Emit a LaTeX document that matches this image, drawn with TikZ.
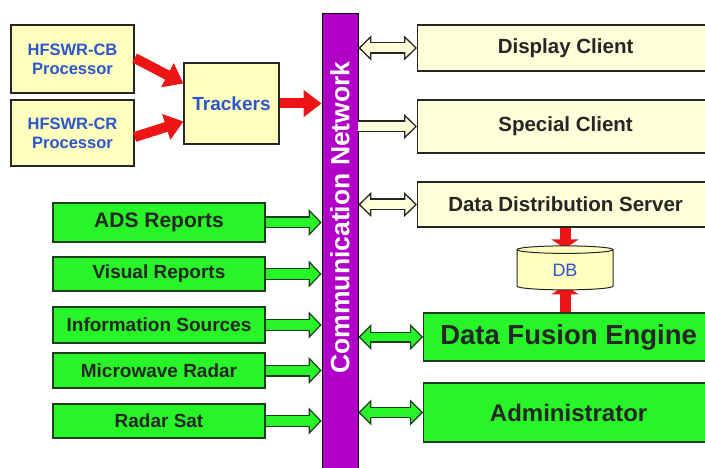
\documentclass[tikz,border=0pt]{standalone}
\usepackage{fontspec}
\setmainfont{Liberation Sans}
\usetikzlibrary{positioning,calc,arrows.meta,shapes.geometric,backgrounds}

\definecolor{procyellow}{RGB}{255,255,190}
\definecolor{clientcream}{RGB}{255,255,218}
\definecolor{srcgreen}{RGB}{40,245,40}
\definecolor{srcedge}{RGB}{30,60,30}
\definecolor{netpurple}{RGB}{176,0,200}
\definecolor{flowred}{RGB}{236,20,20}
\definecolor{procblue}{RGB}{45,85,205}

\begin{document}
\begin{tikzpicture}[x=1pt,y=-1pt,
    proc/.style={rectangle,draw=black!85,line width=1.2pt,fill=procyellow,
      text=procblue,font=\bfseries\fontsize{16.5}{19}\selectfont,align=center,inner sep=0pt},
    client/.style={rectangle,draw=black!85,line width=1.2pt,fill=clientcream,anchor=west,
      text=black!85,font=\bfseries\fontsize{20.5}{24}\selectfont,minimum width=296pt,inner sep=0pt},
    source/.style={rectangle,draw=srcedge,line width=1.2pt,fill=srcgreen,
      text=black!85,font=\bfseries\fontsize{19}{22}\selectfont,minimum width=212pt,inner sep=0pt},
    engine/.style={rectangle,draw=srcedge,line width=1.2pt,fill=srcgreen,anchor=west,
      text=black!85,font=\bfseries\fontsize{24}{28}\selectfont,minimum width=290pt,inner sep=0pt},
    net/.style={rectangle,draw=black,line width=0.8pt,fill=netpurple,
      minimum width=36pt,minimum height=457pt,inner sep=0pt},
    nettext/.style={text=white,font=\bfseries\fontsize{26.5}{30}\selectfont,inner sep=0pt},
    db/.style={cylinder,shape border rotate=90,aspect=0.3,draw=black!85,line width=1pt,
      fill=procyellow,minimum width=96pt,minimum height=44pt,inner sep=0pt,
      text=procblue,font=\fontsize{18}{20}\selectfont},
    redflow/.style={draw=flowred,line width=10pt,-{Triangle[width=26pt,length=18pt]}},
    dbflow/.style={draw=flowred,line width=11pt,-{Triangle[width=27pt,length=9pt]}},
    creamflow/.style={draw=black!85,line width=12pt,
      -{Triangle[width=25pt,length=13pt,fill=clientcream,line width=1.3pt]},
      postaction={draw=clientcream,line width=9pt,-,shorten >=11pt}},
    creamboth/.style={draw=black!85,line width=12pt,
      {Triangle[width=25pt,length=13pt,fill=clientcream,line width=1.3pt]}-{Triangle[width=25pt,length=13pt,fill=clientcream,line width=1.3pt]},
      postaction={draw=clientcream,line width=9pt,-,shorten >=11pt,shorten <=11pt}},
    greenflow/.style={draw=srcedge,line width=12pt,
      -{Triangle[width=27pt,length=13pt,fill=srcgreen,line width=1.2pt]},
      postaction={draw=srcgreen,line width=9.5pt,-,shorten >=11.5pt}},
    greenboth/.style={draw=srcedge,line width=11pt,
      {Triangle[width=26pt,length=13pt,fill=srcgreen,line width=1.2pt]}-{Triangle[width=26pt,length=13pt,fill=srcgreen,line width=1.2pt]},
      postaction={draw=srcgreen,line width=8.5pt,-,shorten >=11.5pt,shorten <=11.5pt}}
    ]

\path[use as bounding box,clip] (0,0) rectangle (705,468);

% Radar processors and trackers
\node[proc,minimum width=123pt,minimum height=68pt] (cb) at (72.5,59) {HFSWR-CB\\Processor};
\node[proc,minimum width=123pt,minimum height=66pt] (cr) at (72.5,133) {HFSWR-CR\\Processor};
\node[proc,minimum width=95pt,minimum height=81pt,font=\bfseries\fontsize{19}{22}\selectfont] (trk) at (231.5,103.5) {Trackers};

% Communication network
\node[net] (net) at (340,241.5) {};
\node[nettext,rotate=90] (netlabel) at (340,217.5) {Communication Network};

% Clients
\node[client,minimum height=46pt] (disp) at (417,48) {Display Client};
\node[client,minimum height=53pt] (spec) at (417,126.5) {Special Client};
\node[client,minimum height=45pt] (dds) at (417,204.5) {Data Distribution Server};

% Database
\node[db] (db) at (565,270) {DB};

% Fusion engine and administrator
\node[engine,minimum height=48pt,font=\bfseries\fontsize{27.5}{31}\selectfont] (dfe) at (423,337) {Data Fusion Engine};
\node[engine,minimum height=59pt] (admin) at (423,412.5) {Administrator};

% Report sources
\node[source,minimum height=39pt,font=\bfseries\fontsize{21}{24}\selectfont] (ads) at (159,222.5) {ADS Reports};
\node[source,minimum height=34pt] (vis) at (159,274) {Visual Reports};
\node[source,minimum height=36pt] (info) at (159,325) {Information Sources};
\node[source,minimum height=35pt] (mw) at (159,370.5) {Microwave Radar};
\node[source,minimum height=34pt] (rsat) at (159,421) {Radar Sat};

% Red data paths
\draw[redflow] ([yshift=1pt]cb.east) -- ([yshift=20pt]trk.west);
\draw[redflow] ([yshift=-4pt]cr.east) -- ([yshift=-18pt]trk.west);
\draw[redflow] (trk.east) -- (trk.east -| net.west);
\begin{scope}[on background layer]
\draw[dbflow] (dds.south -| db.north) -- ([yshift=-3pt]db.north);
\draw[dbflow] (dfe.north -| db.south) -- ([yshift=5pt]db.south);
\end{scope}

% Network to clients
\draw[creamboth] (net.east |- disp.west) -- (disp.west);
\draw[creamflow] (net.east |- spec.west) -- (spec.west);
\draw[creamboth] (net.east |- dds.west) -- (dds.west);

% Sources into the network
\foreach \src in {ads,vis,info,mw,rsat}
  \draw[greenflow] (\src.east) -- (\src.east -| net.west);

% Network to engine and administrator
\draw[greenboth] (net.east |- dfe.west) -- (dfe.west);
\draw[greenboth] (net.east |- admin.west) -- (admin.west);

\end{tikzpicture}
\end{document}
